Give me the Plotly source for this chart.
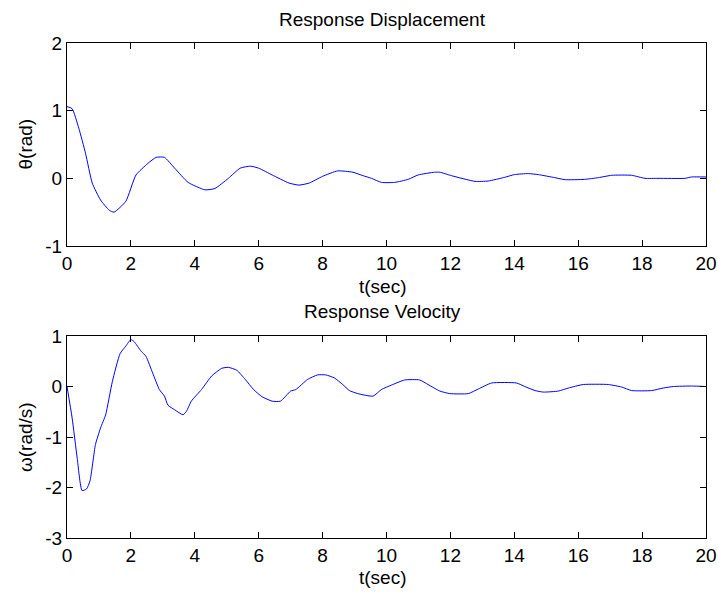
import plotly.graph_objects as go
from plotly.subplots import make_subplots

# Angular displacement theta(t) of the damped pendulum
t_disp = [0.0, 0.16, 0.37, 0.58, 0.79, 1.05, 1.32, 1.47, 1.84, 2.16, 2.53, 2.79,
          3.05, 3.37, 3.79, 4.32, 4.63, 5.05, 5.42, 5.74, 6.0, 6.42, 6.95, 7.26,
          7.58, 8.0, 8.47, 8.95, 9.26, 9.53, 9.84, 10.26, 10.68, 10.99, 11.5,
          11.67, 12.03, 12.77, 13.18, 13.7, 14.0, 14.44, 14.75, 15.27, 15.59,
          16.2, 16.63, 17.05, 17.67, 18.09, 18.5, 19.34, 19.55, 20.0]
theta = [1.06, 1.03, 0.74, 0.37, -0.07, -0.32, -0.47, -0.50, -0.34, 0.05, 0.22,
         0.31, 0.31, 0.15, -0.06, -0.17, -0.15, 0.0, 0.15, 0.18, 0.15, 0.05,
         -0.07, -0.10, -0.07, 0.03, 0.11, 0.09, 0.04, 0.0, -0.06, -0.06, -0.015,
         0.05, 0.09, 0.09, 0.04, -0.045, -0.04, 0.015, 0.055, 0.07, 0.055, 0.01,
         -0.02, -0.015, 0.01, 0.045, 0.045, 0.0, 0.0, 0.0, 0.02, 0.02]

# Angular velocity omega(t)
t_vel = [0.0, 0.16, 0.32, 0.47, 0.61, 0.72, 0.89, 1.05, 1.21, 1.42, 1.66, 1.84,
         2.0, 2.1, 2.32, 2.47, 2.68, 2.89, 3.05, 3.16, 3.37, 3.63, 3.74, 3.89,
         4.21, 4.53, 4.84, 5.05, 5.32, 5.58, 5.84, 6.1, 6.42, 6.68, 7.0, 7.16,
         7.53, 7.84, 8.1, 8.37, 8.63, 8.84, 9.1, 9.58, 9.84, 10.16, 10.57, 11.04,
         11.3, 11.67, 11.98, 12.56, 12.87, 13.29, 14.07, 14.33, 14.65, 14.91,
         15.38, 15.69, 16.16, 16.94, 17.36, 17.67, 18.3, 18.66, 18.98, 19.55, 20.0]
omega = [0.0, -0.62, -1.42, -2.06, -2.03, -1.87, -1.15, -0.82, -0.56, 0.1, 0.65,
         0.80, 0.93, 0.89, 0.70, 0.60, 0.27, -0.06, -0.19, -0.37, -0.46, -0.56,
         -0.49, -0.29, -0.06, 0.21, 0.36, 0.38, 0.32, 0.14, -0.06, -0.2, -0.29,
         -0.29, -0.09, -0.06, 0.14, 0.23, 0.23, 0.17, 0.04, -0.08, -0.14, -0.19,
         -0.06, 0.03, 0.13, 0.13, 0.04, -0.09, -0.14, -0.14, -0.05, 0.07, 0.07,
         0.0, -0.08, -0.11, -0.09, -0.03, 0.04, 0.04, -0.01, -0.08, -0.08, -0.03,
         0.0, 0.01, 0.0]

x_ticks = list(range(0, 21, 2))
theta_ticks = [-1, 0, 1, 2]
omega_ticks = [-3, -2, -1, 0, 1]

FONT = "Liberation Sans, Arial, sans-serif"
FS = 19


def labels(vals):
    # plain hyphen-minus for negative numbers
    return [str(v) for v in vals]


fig = make_subplots(rows=2, cols=1, vertical_spacing=0.18)
fig.add_trace(go.Scatter(x=t_disp, y=theta, mode="lines",
                         line=dict(color="#0000ff", width=1, shape="spline", smoothing=0.5)),
              row=1, col=1)
fig.add_trace(go.Scatter(x=t_vel, y=omega, mode="lines",
                         line=dict(color="#0000ff", width=1, shape="spline", smoothing=0.5)),
              row=2, col=1)

axis_style = dict(showline=True, linecolor="black", linewidth=1, mirror="ticks",
                  ticks="inside", ticklen=6, tickcolor="black", showgrid=False,
                  zeroline=False, automargin=False,
                  tickfont=dict(family=FONT, size=FS, color="black"))

fig.update_xaxes(range=[0, 20], tickvals=x_ticks, ticktext=labels(x_ticks),
                 domain=[0, 1], **axis_style)
fig.update_yaxes(**axis_style)
fig.update_yaxes(range=[-1, 2], tickvals=theta_ticks, ticktext=labels(theta_ticks),
                 domain=[0.5899, 1.0], row=1, col=1)
fig.update_yaxes(range=[-3, 1], tickvals=omega_ticks, ticktext=labels(omega_ticks),
                 domain=[0.0, 0.408], row=2, col=1)

txt = dict(family=FONT, size=FS, color="black")
cx = 0.4945
annotations = [
    dict(text="Response Displacement", x=cx, y=1.0465),
    dict(text="t(sec)", x=cx, y=0.5077),
    dict(text="Response Velocity", x=cx, y=0.4572),
    dict(text="t(sec)", x=cx, y=-0.0808),
    dict(text="θ(rad)", x=-0.0657, y=0.795, textangle=-90),
    dict(text="ω(rad/s)", x=-0.0657, y=0.204, textangle=-90),
]
for a in annotations:
    fig.add_annotation(xref="paper", yref="paper", showarrow=False,
                       xanchor="center", yanchor="middle", font=txt, **a)

fig.update_layout(template="none", width=718, height=592, showlegend=False,
                  margin=dict(l=67, r=12, t=43, b=54),
                  paper_bgcolor="white", plot_bgcolor="white")

fig.write_html("out.html")
